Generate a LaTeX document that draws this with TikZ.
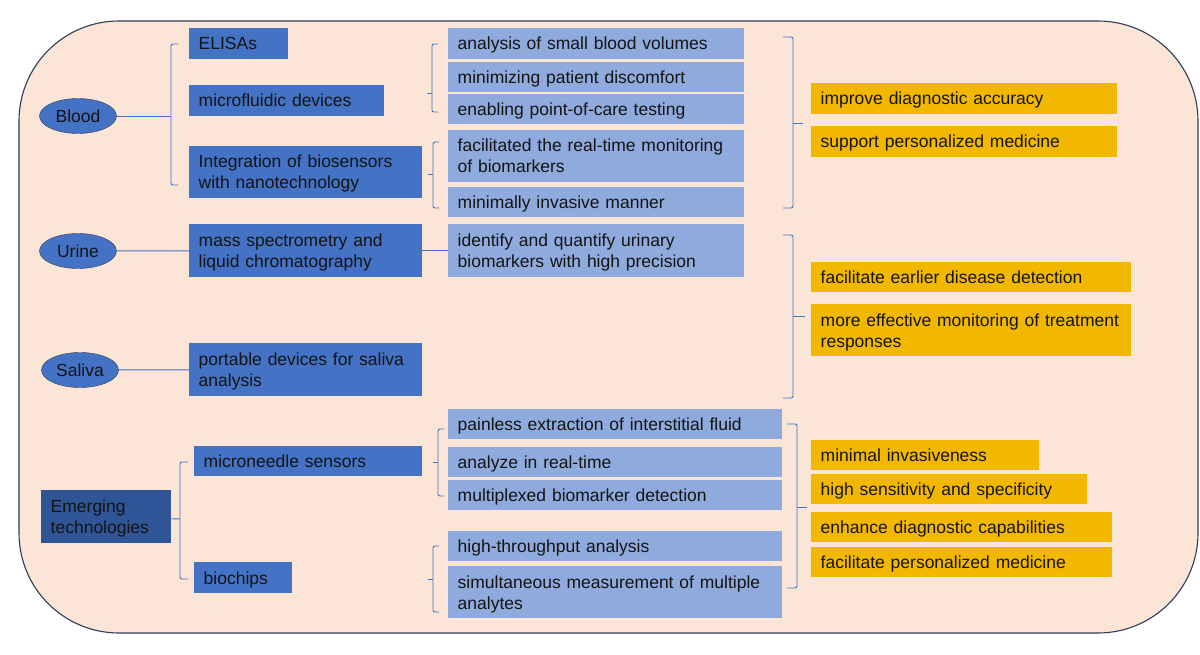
\documentclass[tikz,border=0pt]{standalone}
\usepackage{fontspec}
\setmainfont{Liberation Sans}
\usepackage{xcolor}
\usetikzlibrary{shapes.geometric}
\definecolor{peach}{HTML}{FBE5D6}
\definecolor{framecol}{HTML}{2F3B57}
\definecolor{midblue}{HTML}{4472C4}
\definecolor{lightblue}{HTML}{8FAADC}
\definecolor{deepblue}{HTML}{2F5597}
\definecolor{gold}{HTML}{F2B800}
\definecolor{ink}{HTML}{141414}
\tikzset{
  every node/.style={font=\fontsize{17.5}{21}\selectfont, text=ink},
  fluid/.style={ellipse, draw=framecol, fill=midblue, minimum width=77pt, minimum height=35pt, inner sep=0pt},
  box/.style={rectangle, anchor=north west, inner xsep=9.5pt, inner ysep=0pt, align=left, text height=12.6pt, text depth=0pt},
  twoline/.style={text depth=21pt},
  method/.style={box, fill=midblue},
  detail/.style={box, fill=lightblue},
  gain/.style={box, fill=gold},
  brk/.style={draw=midblue, line width=0.9pt, rounded corners=2pt},
}

\begin{document}
\begin{tikzpicture}[x=1pt, y=-1pt]
   \useasboundingbox (0,0) rectangle (1200,655);
   % \draw[step=50,gray,very thin] (0,0) grid (1200,655);
    \draw[framecol, fill=peach, line width=1.1pt, rounded corners=100pt] (19,21) rectangle (1198,633);

   % sample types
    \node[fluid] (blood) at (78,116) {Blood};
    \node[fluid] (urine) at (78,251) {Urine};
    \node[fluid] (saliva) at (80,370) {Saliva};
    \node[box, twoline, fill=deepblue, text width=111pt, minimum height=53pt] (emerg) at (41,490) {Emerging\\technologies};

   % methods
    \node[method, text width=80pt, minimum height=31pt] (elisa) at (189,28) {ELISAs};
    \node[method, text width=176pt, minimum height=31pt] (micro) at (189,85) {microfluidic devices};
    \node[method, twoline, text width=214pt, minimum height=52pt] (integ) at (189,146) {Integration of biosensors\\with nanotechnology};
    \node[method, twoline, text width=214pt, minimum height=53pt] (mass) at (189,224) {mass spectrometry and\\liquid chromatography};
    \node[method, twoline, text width=214pt, minimum height=53pt] (port) at (189,343) {portable devices for saliva\\analysis};
    \node[method, text width=209pt, minimum height=30pt] (needle) at (194,446) {microneedle sensors};
    \node[method, text width=79pt, minimum height=31pt] (chips) at (194,562) {biochips};

   % details
    \node[detail, text width=277pt, minimum height=31pt] (small) at (448,28) {analysis of small blood volumes};
    \node[detail, text width=277pt, minimum height=30pt] (comfort) at (448,62) {minimizing patient discomfort};
    \node[detail, text width=277pt, minimum height=30pt] (poc) at (448,94) {enabling point-of-care testing};
    \node[detail, twoline, text width=277pt, minimum height=52pt] (monit) at (448,130) {facilitated the real-time monitoring\\of biomarkers};
    \node[detail, text width=277pt, minimum height=30pt] (invas) at (448,187) {minimally invasive manner};
    \node[detail, twoline, text width=277pt, minimum height=53pt] (ident) at (448,224) {identify and quantify urinary\\biomarkers with high precision};
    \node[detail, text width=315pt, minimum height=30pt] (painless) at (448,409) {painless extraction of interstitial fluid};
    \node[detail, text width=315pt, minimum height=30pt] (realtime) at (448,447) {analyze in real-time};
    \node[detail, text width=315pt, minimum height=30pt] (multi) at (448,480) {multiplexed biomarker detection};
    \node[detail, text width=315pt, minimum height=30pt] (hightp) at (448,531) {high-throughput analysis};
    \node[detail, twoline, text width=315pt, minimum height=52pt] (simul) at (448,566) {simultaneous measurement of multiple\\analytes};

   % benefits
    \node[gain, text width=287pt, minimum height=31pt] (accur) at (811,83) {improve diagnostic accuracy};
    \node[gain, text width=287pt, minimum height=31pt] (perso) at (811,126) {support personalized medicine};
    \node[gain, text width=301pt, minimum height=30pt] (early) at (811,262) {facilitate earlier disease detection};
    \node[gain, twoline, text width=301pt, minimum height=52pt] (resp) at (811,304) {more effective monitoring of treatment\\responses};
    \node[gain, text width=209pt, minimum height=30pt] (mininv) at (811,440) {minimal invasiveness};
    \node[gain, text width=257pt, minimum height=30pt] (sens) at (811,474) {high sensitivity and specificity};
    \node[gain, text width=282pt, minimum height=30pt] (enh) at (811,512) {enhance diagnostic capabilities};
    \node[gain, text width=282pt, minimum height=30pt] (fpm) at (811,547) {facilitate personalized medicine};

   % brackets and links
    \coordinate (bloodfork) at (171,116);
    \coordinate (emergfork) at (180,519);
    \draw[brk] (blood) -- (bloodfork);
    \draw[brk] (178,44) -- (171,44) -- (171,185) -- (178,185);
    \draw[brk] (emerg) -- (emergfork);
    \draw[brk] (188,462) -- (180,462) -- (180,579) -- (188,579);
    \draw[brk] (urine) -- (mass);
    \draw[brk] (mass) -- (ident);
    \draw[brk] (saliva) -- (port);

    \draw[brk] (438,44) -- (432,44) -- (432,112) -- (438,112);
    \draw[brk] (432,93) -- (427,93);
    \draw[brk] (439,142) -- (433,142) -- (433,208) -- (439,208);
    \draw[brk] (433,174) -- (428,174);
    \draw[brk] (444,429) -- (438,429) -- (438,496) -- (444,496);
    \draw[brk] (438,462) -- (433,462);
    \draw[brk] (439,546) -- (433,546) -- (433,612) -- (439,612);
    \draw[brk] (433,579) -- (428,579);

    \draw[brk] (783,37) -- (793,37) -- (793,208) -- (783,208);
    \draw[brk] (793,123) -- (803,123);
    \draw[brk] (783,235) -- (793,235) -- (793,398) -- (783,398);
    \draw[brk] (793,316) -- (805,316);
    \draw[brk] (787,424) -- (797,424) -- (797,588) -- (787,588);
    \draw[brk] (797,507) -- (807,507);
    \end{tikzpicture}
\end{document}
